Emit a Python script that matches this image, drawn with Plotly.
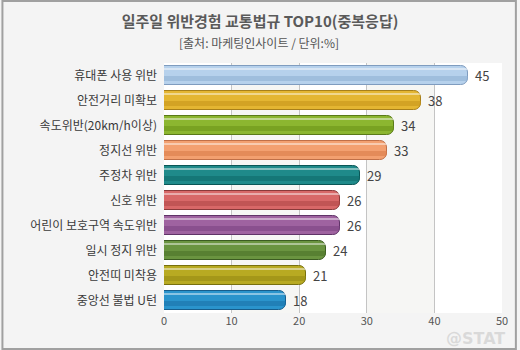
import plotly.graph_objects as go

categories = ["휴대폰 사용 위반", "안전거리 미확보", "속도위반(20km/h이상)", "정지선 위반", "주정차 위반",
              "신호 위반", "어린이 보호구역 속도위반", "일시 정지 위반", "안전띠 미착용", "중앙선 불법 U턴"]
values = [45, 38, 34, 33, 29, 26, 26, 24, 21, 18]
base_colors = ["#b6d1ec", "#e4b632", "#8cb630", "#f3a070", "#1f8a8a",
               "#d86868", "#9f63a0", "#6a9440", "#b8aa22", "#2a94cc"]
dark_colors = ["#8eafd2", "#c6941a", "#6a9218", "#d97a48", "#0d6868",
               "#b04646", "#7a4280", "#4a7028", "#948812", "#1a70a6"]
line_colors = ["#7f9cbf", "#a8801a", "#5a7a18", "#c07048", "#0a5656",
               "#8a3a3a", "#603468", "#3c5c22", "#78700e", "#175e8c"]
x_ticks = [0, 10, 20, 30, 40, 50]

W, H = 520, 350
ML, MR, MT, MB = 164, 15, 63, 37
pw, ph = W - ML - MR, H - MT - MB

idx = list(range(len(categories)))
font = "Noto Sans CJK KR, Noto Sans, sans-serif"

fig = go.Figure()
# main bar
fig.add_trace(go.Bar(
    y=idx, x=values, orientation="h", width=0.76,
    marker=dict(color=base_colors, line=dict(color=line_colors, width=1), cornerradius=7),
    hoverinfo="skip", showlegend=False))
# darker lower band
fig.add_trace(go.Bar(
    y=[i + 0.12 for i in idx], x=values, orientation="h", width=0.22,
    marker=dict(color=dark_colors, line=dict(width=0), cornerradius=3),
    opacity=0.55, hoverinfo="skip", showlegend=False))
# highlight stripe
fig.add_trace(go.Bar(
    y=[i - 0.25 for i in idx], x=values, orientation="h", width=0.09,
    marker=dict(color="#ffffff", line=dict(width=0), cornerradius=2),
    opacity=0.45, hoverinfo="skip", showlegend=False))

shapes = []
# alternating bands
for a in (10, 30):
    shapes.append(dict(type="rect", xref="x", yref="paper", x0=a, x1=a + 10, y0=0, y1=1,
                       fillcolor="#f6f6f4", line=dict(width=0), layer="below"))
# figure border
shapes.append(dict(type="rect", xref="paper", yref="paper",
                   x0=(1 - ML) / pw, x1=(W - 1 - ML) / pw,
                   y0=(1 - MB) / ph, y1=(H - 1 - MB) / ph,
                   line=dict(color="#a0a0a0", width=2), fillcolor="rgba(0,0,0,0)", layer="above"))

annotations = [
    dict(text="[출처: 마케팅인사이트 / 단위:%]", xref="paper", yref="paper",
         x=(W / 2 - ML) / pw, y=(H - 43 - MB) / ph, xanchor="center", yanchor="middle",
         showarrow=False, font=dict(size=12, color="#555", family=font)),
    dict(text="<b>@STAT</b>", xref="paper", yref="paper",
         x=(478 - ML) / pw, y=(H - 338 - MB) / ph, xanchor="center", yanchor="middle",
         showarrow=False, font=dict(size=16, color="rgba(200,200,200,0.6)", family="DejaVu Sans")),
]
for i, v in zip(idx, values):
    annotations.append(dict(text=str(v), x=v, y=i, xref="x", yref="y", xanchor="left",
                            yanchor="middle", xshift=5, showarrow=False,
                            font=dict(size=13, color="#444", family=font)))

fig.update_layout(
    width=W, height=H, margin=dict(l=ML, r=MR, t=MT, b=MB),
    paper_bgcolor="#f4f4f4", plot_bgcolor="#ffffff",
    barmode="overlay", bargap=0,
    font=dict(family=font, color="#333"),
    title=dict(text="<b>일주일 위반경험 교통법규 TOP10(중복응답)</b>", x=0.5, xanchor="center",
               y=1 - 22 / H, yanchor="middle", font=dict(size=15, color="#5a5a5a", family=font)),
    xaxis=dict(range=[0, 50], tickvals=x_ticks, showgrid=True, gridcolor="#c4c4c4", gridwidth=1,
               zeroline=False, showline=False, ticks="", tickfont=dict(size=11, color="#555"),
               fixedrange=True),
    yaxis=dict(range=[len(categories) - 0.5, -0.5], tickvals=idx, ticktext=categories,
               showgrid=False, zeroline=False, ticks="", ticklabelstandoff=6,
               tickfont=dict(size=12, color="#3a3a3a"), fixedrange=True),
    shapes=shapes,
    annotations=annotations,
)

fig.write_html("out.html")
